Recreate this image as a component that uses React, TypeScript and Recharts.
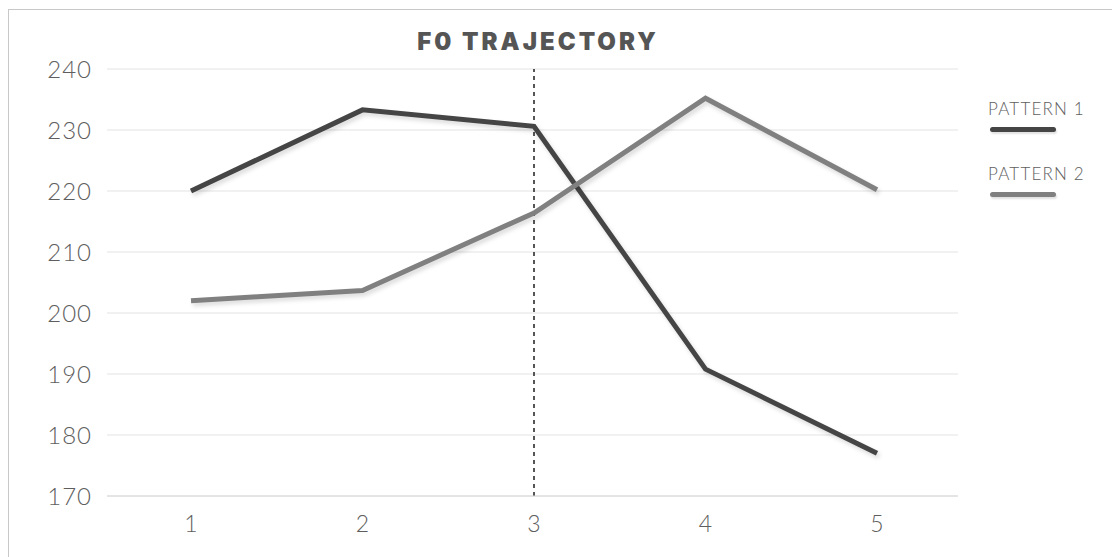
import { LineChart, Line, XAxis, YAxis, CartesianGrid, ReferenceLine } from "recharts";

const steps = [1, 2, 3, 4, 5];
const pattern1 = [220, 233.3, 230.6, 190.8, 177];
const pattern2 = [202, 203.7, 216.4, 235.2, 220.2];
const yTicks = [170, 180, 190, 200, 210, 220, 230, 240];
const seriesNames = ["PATTERN 1", "PATTERN 2"];

const DARK = "#454545";
const MID = "#808080";
const GRID = "#e4e4e4";
const TEXT = "#5e5e5e";
const FONT = "Lato, 'Open Sans', sans-serif";

const data = steps.map((s, i) => ({ step: s, p1: pattern1[i], p2: pattern2[i] }));

export default function App() {
  return (
    <div
      style={{
        position: "relative",
        width: 1120,
        height: 560,
        marginTop: 1,
        borderTop: "1px solid #c8c8c8",
        borderLeft: "1px solid #c8c8c8",
        background: "#fff",
        fontFamily: FONT,
      }}
    >
      <style>{`.shadowed path { filter: drop-shadow(2px 3px 2px rgba(0,0,0,0.14)); }`}</style>
      <div
        style={{
          position: "absolute",
          left: 0,
          width: 1058,
          top: 17,
          textAlign: "center",
          fontFamily: "Inter, sans-serif",
          fontWeight: 900,
          fontSize: 24,
          letterSpacing: 3,
          color: "#555",
        }}
      >
        F0 TRAJECTORY
      </div>
      <LineChart
        width={1110}
        height={548}
        data={data}
        margin={{ top: 59, right: 161, bottom: 22, left: 0 }}
      >
        <CartesianGrid vertical={false} stroke={GRID} strokeWidth={1.2} />
        <XAxis
          dataKey="step"
          padding={{ left: 84, right: 81 }}
          axisLine={{ stroke: "#d8d8d8" }}
          tickLine={false}
          tickMargin={14}
          height={40}
          tick={{ fill: TEXT, fontSize: 23, fontWeight: 300, fontFamily: FONT }}
        />
        <YAxis
          type="number"
          domain={[170, 240]}
          ticks={yTicks}
          width={98}
          axisLine={false}
          tickLine={false}
          tickMargin={9}
          tick={{ fill: TEXT, fontSize: 24, fontWeight: 300, fontFamily: FONT, letterSpacing: 1 }}
        />
        <ReferenceLine x={3} stroke="#555" strokeWidth={2} strokeDasharray="4 4" />
        <Line
          className="shadowed"
          type="linear"
          dataKey="p1"
          stroke={DARK}
          strokeWidth={5}
          dot={false}
          isAnimationActive={false}
        />
        <Line
          className="shadowed"
          type="linear"
          dataKey="p2"
          stroke={MID}
          strokeWidth={5}
          dot={false}
          isAnimationActive={false}
        />
      </LineChart>
      {seriesNames.map((name, i) => (
        <div
          key={name}
          style={{ position: "absolute", left: 979, top: 88 + i * 65, width: 140 }}
        >
          <div style={{ fontSize: 17, fontWeight: 300, color: TEXT, letterSpacing: 1.2 }}>{name}</div>
          <div
            style={{
              marginTop: 8,
              marginLeft: 2,
              width: 66,
              height: 5,
              borderRadius: 3,
              background: i === 0 ? DARK : MID,
              boxShadow: "1px 2px 2px rgba(0,0,0,0.12)",
            }}
          />
        </div>
      ))}
    </div>
  );
}
